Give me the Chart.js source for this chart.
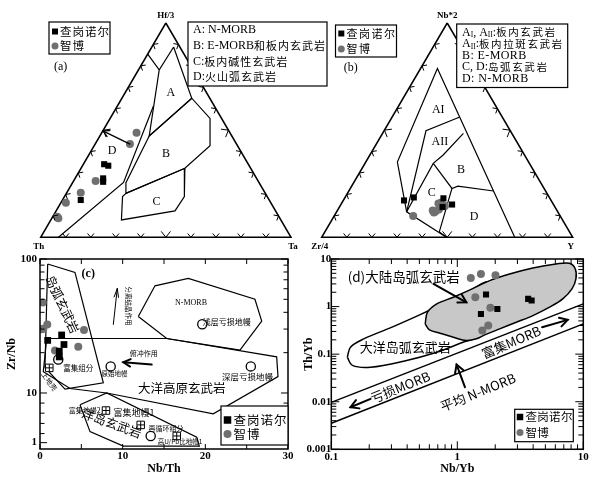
<!DOCTYPE html>
<html><head><meta charset="utf-8">
<script src="https://cdn.jsdelivr.net/npm/chart.js@4.4.1/dist/chart.umd.min.js"></script>
<style>
html,body{margin:0;padding:0;background:#fff;}
#wrap{position:relative;width:608px;height:487px;background:#fff;overflow:hidden;}
#wrap canvas{position:absolute;left:0;top:0;}
</style></head><body><div id="wrap">
<canvas id="cA" width="608" height="487"></canvas>
<canvas id="cB" width="608" height="487"></canvas>
<canvas id="cC" width="608" height="487"></canvas>
<canvas id="cD" width="608" height="487"></canvas>
</div>
<script>
// ================= DATA =================
// Panel (a): Hf/3 – Th – Ta ternary; compositions [Hf/3, Th, Ta] in %
const aZhaGangNuoEr = [[34.1,57.7,8.3],[33.4,56.3,10.3],[27.5,61.2,11.2],[25.9,62.1,12.0],[17.4,75.3,7.3]];
const aZhiBo = [[48.8,37.3,13.9],[43.5,42.6,13.9],[26.3,64.9,8.8],[20.8,73.6,5.6],[16.1,81.9,2.0],[8.9,88.5,2.6],[9.6,88.6,1.8]];
const aFieldA = [[88.8,2.5,8.7],[64.9,7.2,27.9],[47.3,33.0,19.7],[78.1,13.6,8.3],[88.8,2.5,8.7]];
const aFieldB = [[47.3,33.0,19.7],[64.9,7.2,27.9],[55.5,4.6,39.9],[42.7,11.0,46.3],[32.2,26.3,41.5],[20.5,55.7,23.8],[25.5,53.2,21.3],[47.3,33.0,19.7]];
const aFieldC = [[20.5,55.7,23.8],[32.2,26.3,41.5],[19.0,33.0,47.9],[12.3,40.2,47.5],[8.1,63.7,28.2],[19.0,57.8,23.2],[20.5,55.7,23.8]];
const aLineTop = [[85.5,14.5,0],[78.1,13.6,8.3]];
const aLineD = [[61.3,24.3,14.4],[25.6,54.1,20.3],[0,92.9,7.1]];
const aArrow = [[43.5,42.6,13.9],[49.7,50.3,0]];
const aFieldLabels = ['A','B','C','D'];
const aFieldLabelPos = [[67.5,14.3,18.2],[38.9,30.5,30.6],[16.6,45.3,38.0],[40.4,51.3,8.3]];

// Panel (b): Nb*2 – Zr/4 – Y ternary; compositions [Nb*2, Zr/4, Y] in %
const bZhaGangNuoEr = [[17.2,58.6,24.2],[18.6,54.1,27.4],[18.2,42.5,39.4],[15.3,40.4,44.3],[14.1,44.7,41.1]];
const bZhiBo = [[9.9,58.5,31.5],[12.5,49.5,38.0],[12.0,48.7,39.3],[15.8,45.7,38.6],[16.2,44.2,39.6],[14.6,43.6,41.8],[13.0,46.8,40.2],[11.6,49.5,38.9]];
const bOuter = [[0,23.1,76.9],[78.8,14.5,6.7],[35.1,52.3,12.6],[11.9,60.2,27.9],[0,50.3,49.7]];
const bLineA = [[56.0,17.2,26.8],[49.7,33.6,16.7],[11.9,60.2,27.9]];
const bLineB = [[48.5,19.3,32.2],[38.4,32.4,29.2],[34.5,38.3,27.2],[11.9,60.2,27.9]];
const bLineC = [[34.5,38.3,27.2],[22.8,36.7,40.5],[23.9,33.7,42.3],[21.6,20.7,57.7]];
const bLineD = [[22.8,36.7,40.5],[2.5,51.9,45.6],[0,50.3,49.7]];
const bFieldLabels = ['AI','AII','B','C','D'];
const bFieldLabelPos = [[59.7,24.1,16.6],[44.6,30.6,24.8],[31.7,28.6,39.6],[20.8,45.8,33.4],[9.6,34.5,55.9]];

// Panel (c): Nb/Th vs Zr/Nb
const cZhaNbTh = [0.93, 2.62, 2.90, 2.33, 2.33];
const cZhaZrNb = [24.7, 27.1, 23.0, 20.5, 18.6];
const cZhiNbTh = [0.33, 0.20, 0.40, 0.88, 5.32, 4.63, 1.81];
const cZhiZrNb = [47.3, 29.9, 30.2, 32.5, 29.5, 22.1, 20.8];
const cResCircNbTh = [19.63, 8.55, 25.5, 2.21, 13.39];
const cResCircZrNb = [32.6, 15.8, 15.8, 17.8, 4.78];
const cResSqNbTh = [1.125, 7.98, 12.18, 16.54];
const cResSqZrNb = [15.4, 7.4, 5.78, 4.78];
const cArcX = [0.93, 4.23, 7.66, 3.02, 0.6, 0.93];
const cArcY = [91.7, 79.4, 11.9, 10.7, 15.5, 91.7];
const cPlateauX = [0.81, 15.33, 28.63, 28.79, 20.96, 8.07, 3.63, 0.4, 0.81];
const cPlateauY = [25.5, 25.5, 18.6, 13.25, 7.0, 10.0, 10.8, 14.4, 25.5];
const cNmorbX = [11.89, 13.91, 17.94, 26.0, 26.82, 24.19, 15.33, 11.89];
const cNmorbY = [37.2, 63.1, 71.6, 50.1, 34.4, 20.9, 25.5, 37.2];
const cOibX = [4.84, 8.07, 18.96, 19.27, 10.08, 6.05, 4.84];
const cOibY = [8.17, 10.0, 4.68, 4.02, 4.02, 5.15, 8.17];
const cXTickValues = [0,5,10,15,20,25,30];
const cXTickLabels = ['0','','10','','20','','30'];
const cYTickValues = [4.26,4.98,5.93,7.07,8.41,10,20,30,40,50,60,70,80,90,100];
const cYTickLabels = ['1','','','','','10','','','','','','','','','100'];

// Panel (d): Nb/Yb vs Th/Yb
const dZhaNbYb = [1.69, 1.54, 2.08, 3.65, 3.89];
const dZhaThYb = [1.79, 0.70, 0.89, 1.45, 1.34];
const dZhiNbYb = [1.28, 1.54, 2.01, 1.39, 1.83, 1.76, 1.58];
const dZhiThYb = [4.01, 4.86, 4.55, 1.57, 0.94, 0.40, 0.313];
const dMorbUpperX = [0.1, 10]; const dMorbUpperY = [0.0097, 1.14];
const dMorbLowerX = [0.1, 10]; const dMorbLowerY = [0.00352, 0.433];
const dContArcX = [0.556,0.58,0.687,0.93,1.26,1.81,2.6,3.98,6.08,7.75,8.64,8.74,8.13,6.87,5.4,3.98,2.94,2.17,1.65,1.42,1.18,0.93,0.73,0.601,0.556];
const dContArcY = [0.433,0.76,1.14,1.57,2.24,3.52,4.85,6.49,7.87,8.13,6.18,3.82,2.35,1.45,0.97,0.647,0.469,0.34,0.254,0.21,0.193,0.227,0.275,0.324,0.433];
const dOcArcX = [0.134,0.142,0.181,0.294,0.508,0.824,1.26,1.81,2.31,1.42,1.11,0.687,0.375,0.205,0.147,0.134];
const dOcArcY = [0.086,0.14,0.209,0.357,0.679,1.23,2.17,3.24,0.97,0.226,0.178,0.11,0.071,0.053,0.058,0.086];
const dXDecadeLabels = {'0.1':'0.1','1':'1','10':'10'};
const dYDecadeLabels = {'0.001':'0.001','0.01':'0.01','0.1':'0.1','1':'1','10':'10'};

// ================= HELPERS =================
const SER = (s,w)=>`${w||''} ${s}px "Liberation Serif","Noto Sans CJK SC",serif`;
const CJK = (s)=>`${s}px "Noto Sans CJK SC","Liberation Serif",sans-serif`;
const GREY = '#707070';
const tern = c => ({x:(c[2] + c[0]/2)/100, y:c[0]/100});
const xy = (xs,ys) => xs.map((x,i)=>({x, y:ys[i]}));
function lineDs(data, o){ return Object.assign({type:'line', data, showLine:true, borderColor:'#000', borderWidth:1.2, pointRadius:0, fill:false, tension:0, backgroundColor:'rgba(0,0,0,0)'}, o||{}); }
function ptDs(data, kind, o){
  const sq = kind==='sq';
  return Object.assign({type:'line', data, showLine:false, pointStyle: sq?'rect':'circle', pointRadius: sq?4.3:4,
    backgroundColor: sq?'#000':GREY, borderColor: sq?'#000':GREY, borderWidth:0}, o||{});
}
function txt(ctx, t, x, y, font, rot, align, ls){
  ctx.save(); ctx.translate(x,y); if(rot) ctx.rotate(rot*Math.PI/180);
  ctx.font=font; ctx.fillStyle='#000'; ctx.textAlign=align||'center'; ctx.textBaseline='middle';
  ctx.letterSpacing = ls || '0px';
  ctx.fillText(t,0,0); ctx.restore();
}
function segs(ctx, x, y, list){
  ctx.save(); ctx.fillStyle='#000'; ctx.textBaseline='middle'; ctx.textAlign='left';
  let cx=x;
  for(const s of list){ ctx.font=s[1]; ctx.letterSpacing=s[3]||'0px'; ctx.fillText(s[0], cx, y+(s[2]||0)); cx+=ctx.measureText(s[0]).width; }
  ctx.restore();
}
function arrow(ctx, x1,y1,x2,y2, lw, hl, angDeg){
  const ang=angDeg*Math.PI/180;
  ctx.save(); ctx.strokeStyle='#000'; ctx.lineWidth=lw; ctx.lineCap='round'; ctx.lineJoin='miter';
  ctx.beginPath(); ctx.moveTo(x1,y1); ctx.lineTo(x2,y2); ctx.stroke();
  const a=Math.atan2(y2-y1,x2-x1);
  ctx.beginPath();
  ctx.moveTo(x2-hl*Math.cos(a-ang), y2-hl*Math.sin(a-ang));
  ctx.lineTo(x2,y2);
  ctx.lineTo(x2-hl*Math.cos(a+ang), y2-hl*Math.sin(a+ang));
  ctx.stroke(); ctx.restore();
}
function legend(ctx, L){
  ctx.save();
  ctx.fillStyle='#fff'; ctx.fillRect(L.x,L.y,L.w,L.h);
  ctx.strokeStyle='#000'; ctx.lineWidth=1.2; ctx.strokeRect(L.x,L.y,L.w,L.h);
  for(const it of L.items){
    if(it.m==='sq'){ ctx.fillStyle='#000'; ctx.fillRect(it.mx-it.s/2, it.y-it.s/2, it.s, it.s); }
    else if(it.m==='ci'){ ctx.fillStyle=GREY; ctx.beginPath(); ctx.arc(it.mx,it.y,it.s/2,0,Math.PI*2); ctx.fill(); }
    if(it.segs) segs(ctx, it.tx, it.y, it.segs);
    else txt(ctx, it.t, it.tx, it.y, L.font, 0, 'left', L.ls);
  }
  ctx.restore();
}
function ternTicks(ctx, P){
  const V=[P([100,0,0]),P([0,100,0]),P([0,0,100])];
  const cx=(V[0][0]+V[1][0]+V[2][0])/3, cy=(V[0][1]+V[1][1]+V[2][1])/3;
  const edges=[[V[1],V[2]],[V[2],V[0]],[V[0],V[1]]];
  ctx.save(); ctx.strokeStyle='#000'; ctx.lineWidth=1;
  for(const [A,B] of edges){
    for(let i=1;i<10;i++){
      const px=A[0]+(B[0]-A[0])*i/10, py=A[1]+(B[1]-A[1])*i/10;
      let nx=-(B[1]-A[1]), ny=(B[0]-A[0]); const nl=Math.hypot(nx,ny); nx/=nl; ny/=nl;
      if((cx-px)*nx+(cy-py)*ny<0){nx=-nx;ny=-ny;}
      const L=i===5?7.5:5, ang=(i===5?38:40)*Math.PI/180;
      ctx.beginPath();
      for(const s of [-1,1]){ const ca=Math.cos(s*ang), sa=Math.sin(s*ang);
        const dx=nx*ca-ny*sa, dy=nx*sa+ny*ca; ctx.moveTo(px,py); ctx.lineTo(px+dx*L,py+dy*L); }
      ctx.stroke();
    }
  }
  ctx.restore();
}
function axisTicks(chart, isMajorX, isMajorY, LX, lX, LY, lY){
  const {ctx, chartArea:a} = chart; const xs=chart.scales.x, ys=chart.scales.y;
  ctx.save(); ctx.strokeStyle='#000'; ctx.lineWidth=1; ctx.beginPath();
  xs.ticks.forEach((t,i)=>{ const p=xs.getPixelForValue(t.value); const L=isMajorX(t.value,i)?LX:lX;
    ctx.moveTo(p,a.bottom); ctx.lineTo(p,a.bottom-L); ctx.moveTo(p,a.top); ctx.lineTo(p,a.top+L); });
  ys.ticks.forEach((t,i)=>{ const p=ys.getPixelForValue(t.value); const L=isMajorY(t.value,i)?LY:lY;
    ctx.moveTo(a.left,p); ctx.lineTo(a.left+L,p); ctx.moveTo(a.right,p); ctx.lineTo(a.right-L,p); });
  ctx.stroke();
  ctx.lineWidth=1.5; ctx.strokeRect(a.left,a.top,a.right-a.left,a.bottom-a.top);
  ctx.restore();
}
const baseOpts = {responsive:false, animation:false, events:[], devicePixelRatio:1,
  plugins:{legend:{display:false}, tooltip:{enabled:false}}};
function ternScales(x0,y0,w,h){
  return { x:{type:'linear', display:false, min:-x0/w, max:(608-x0)/w},
           y:{type:'linear', display:false, min:(y0-487)/h, max:y0/h} };
}
const TRI = [[100,0,0],[0,100,0],[0,0,100],[100,0,0]];

// ================= PANEL (a) =================
new Chart(document.getElementById('cA'), {
  type:'line',
  data:{datasets:[
    ptDs(aZhaGangNuoEr.map(tern),'sq'),
    ptDs(aZhiBo.map(tern),'ci'),
    lineDs(TRI.map(tern),{borderWidth:1.5}),
    lineDs(aFieldA.map(tern)), lineDs(aFieldB.map(tern)), lineDs(aFieldC.map(tern)),
    lineDs(aLineTop.map(tern)), lineDs(aLineD.map(tern))
  ]},
  options:Object.assign({}, baseOpts, {layout:{padding:0, autoPadding:false}, scales:ternScales(40.7,237.3,250.3,214.3)}),
  plugins:[{id:'decoA', afterDatasetsDraw(chart){
    const ctx=chart.ctx, xs=chart.scales.x, ys=chart.scales.y;
    const P=c=>{const q=tern(c); return [xs.getPixelForValue(q.x), ys.getPixelForValue(q.y)];};
    ternTicks(ctx,P);
    const s=P(aArrow[0]), e=P(aArrow[1]); arrow(ctx,s[0],s[1],e[0],e[1],1.3,7,28);
    aFieldLabels.forEach((t,i)=>{const p=P(aFieldLabelPos[i]); txt(ctx,t,p[0],p[1],SER(12));});
    const T=P([100,0,0]), L=P([0,100,0]), R=P([0,0,100]);
    txt(ctx,'Hf/3',T[0],T[1]-7.5,SER(9,'bold'));
    txt(ctx,'Th',L[0]-2,L[1]+9.5,SER(9,'bold'));
    txt(ctx,'Ta',R[0]+2,R[1]+9.5,SER(9,'bold'));
    txt(ctx,'(a)',60.7,66.7,SER(12));
    legend(ctx,{x:49,y:22,w:61,h:32,font:CJK(11.5),ls:'1px',items:[
      {m:'sq',mx:55,s:6,y:31.5,tx:60,t:'查岗诺尔'},{m:'ci',mx:55,s:7,y:46,tx:60,t:'智博'}]});
    const F=SER(12), C=CJK(11);
    legend(ctx,{x:188,y:22,w:139,h:64,font:F,items:[
      {tx:193,y:30,segs:[['A: N-MORB',F]]},
      {tx:193,y:45.5,segs:[['B: E-MORB',F],['和板内玄武岩',C,0,'1px']]},
      {tx:193,y:61.5,segs:[['C:',F],['板内碱性玄武岩',C,0,'1px']]},
      {tx:193,y:77,segs:[['D:',F],['火山弧玄武岩',C,0,'1px']]}]});
  }}]
});

// ================= PANEL (b) =================
new Chart(document.getElementById('cB'), {
  type:'line',
  data:{datasets:[
    ptDs(bZhaGangNuoEr.map(tern),'sq'),
    ptDs(bZhiBo.map(tern),'ci'),
    lineDs(TRI.map(tern),{borderWidth:1.5}),
    lineDs(bOuter.map(tern)), lineDs(bLineA.map(tern)), lineDs(bLineB.map(tern)),
    lineDs(bLineC.map(tern)), lineDs(bLineD.map(tern))
  ]},
  options:Object.assign({}, baseOpts, {layout:{padding:0, autoPadding:false}, scales:ternScales(321.7,237.3,251,214.3)}),
  plugins:[{id:'decoB', afterDatasetsDraw(chart){
    const ctx=chart.ctx, xs=chart.scales.x, ys=chart.scales.y;
    const P=c=>{const q=tern(c); return [xs.getPixelForValue(q.x), ys.getPixelForValue(q.y)];};
    ternTicks(ctx,P);
    bFieldLabels.forEach((t,i)=>{const p=P(bFieldLabelPos[i]); txt(ctx,t,p[0],p[1],SER(12));});
    const T=P([100,0,0]), L=P([0,100,0]), R=P([0,0,100]);
    txt(ctx,'Nb*2',T[0],T[1]-7.5,SER(9,'bold'));
    txt(ctx,'Zr/4',L[0]-2,L[1]+9.5,SER(9,'bold'));
    txt(ctx,'Y',R[0]-2,R[1]+9.5,SER(9,'bold'));
    txt(ctx,'(b)',350.7,67.7,SER(12));
    legend(ctx,{x:335.5,y:25,w:61,h:32,font:CJK(11),ls:'1.5px',items:[
      {m:'sq',mx:341.3,s:6,y:33.5,tx:346.5,t:'查岗诺尔'},{m:'ci',mx:341.3,s:7,y:49,tx:346.5,t:'智博'}]});
    const F=SER(12), f=SER(7.5), C=CJK(10.5);
    legend(ctx,{x:456.7,y:24,w:111,h:63.5,font:F,items:[
      {tx:462,y:32.5,segs:[['A',F],['I',f,2.5],[', A',F],['II',f,2.5],[':',F],['板内玄武岩',C,0,'1.6px']]},
      {tx:462,y:44.3,segs:[['A',F],['II',f,2.5],[':',F],['板内拉斑玄武岩',C,0,'1.6px']]},
      {tx:462,y:55.8,segs:[['B: E-MORB',F,0,'0.4px']]},
      {tx:462,y:67.3,segs:[['C, D:',F],['岛弧玄武岩',C,0,'1.6px']]},
      {tx:462,y:79,segs:[['D: N-MORB',F,0,'0.4px']]}]});
  }}]
});

// ================= PANEL (c) =================
const tickFont = {family:'"Liberation Serif", serif', size:11, weight:'bold'};
const titleFont = {family:'"Liberation Serif", serif', size:12, weight:'bold'};
const cTexts = [
  {t:'(c)', x:5.84, y:77.1, f:SER(12,'bold')},
  {t:'N-MORB', x:18.27, y:47.3, f:SER(8)},
  {t:'浅层亏损地幔', x:22.6, y:33.9, f:CJK(8)},
  {t:'原始地幔', x:9.01, y:13.9, f:CJK(6.5)},
  {t:'深层亏损地幔', x:25.1, y:13.3, f:CJK(8.5)},
  {t:'富集组分', x:4.63, y:15.4, f:CJK(7.5)},
  {t:'大洋高原玄武岩', x:17.14, y:10.9, f:CJK(12.5)},
  {t:'岛弧玄武岩', x:2.7, y:45.9, f:CJK(12.5), r:65},
  {t:'分离结晶作用', x:10.68, y:44.6, f:CJK(6.5), r:90},
  {t:'俯冲作用', x:12.56, y:19.7, f:CJK(7)},
  {t:'富集地幔2', x:5.41, y:7.4, f:CJK(7)},
  {t:'富集地幔1', x:11.37, y:7.15, f:CJK(9)},
  {t:'洋岛玄武岩', x:8.67, y:5.96, f:CJK(12.5), r:20},
  {t:'再循环组分', x:15.24, y:5.46, f:CJK(7)},
  {t:'高U/Pb比地幔1', x:16.94, y:4.33, f:CJK(6.5)},
  {t:'上地壳', x:1.125, y:12.2, f:CJK(7), r:55}
];
const cArrows = [
  {from:{x:8.87,y:32.5}, to:{x:9.35,y:60.3}, lw:1, hl:9, a:14},
  {from:{x:13.51,y:16.3}, to:{x:10.08,y:16.97}, lw:2, hl:8, a:28}
];
new Chart(document.getElementById('cC'), {
  type:'line',
  data:{datasets:[
    ptDs(xy(cZhaNbTh,cZhaZrNb),'sq',{pointRadius:4.8}),
    ptDs(xy(cZhiNbTh,cZhiZrNb),'ci'),
    ptDs(xy(cResSqNbTh,cResSqZrNb),'x',{pointStyle:'cross',pointRadius:3.6,borderColor:'#000',borderWidth:1,backgroundColor:'#000'}),
    ptDs(xy(cResSqNbTh,cResSqZrNb),'sq',{pointRadius:5.3,backgroundColor:'#fff',borderColor:'#000',borderWidth:1}),
    ptDs(xy(cResCircNbTh,cResCircZrNb),'ci',{pointRadius:4.6,backgroundColor:'#fff',borderColor:'#000',borderWidth:1.3}),
    lineDs(xy(cArcX,cArcY)), lineDs(xy(cPlateauX,cPlateauY)),
    lineDs(xy(cNmorbX,cNmorbY)), lineDs(xy(cOibX,cOibY))
  ]},
  options:Object.assign({}, baseOpts, {
    layout:{padding:{left:0,right:320,top:259,bottom:0}, autoPadding:false},
    scales:{
      x:{type:'linear', min:0, max:30, grid:{display:false, drawTicks:false}, border:{display:false},
         afterBuildTicks(s){ s.ticks = cXTickValues.map(v=>({value:v})); },
         afterFit(s){ s.height=38; },
         ticks:{autoSkip:false, maxRotation:0, padding:1, color:'#000', font:tickFont, callback:(v,i)=>cXTickLabels[i]},
         title:{display:true, text:'Nb/Th', color:'#000', font:titleFont, padding:{top:0,bottom:10.8}}},
      y:{type:'logarithmic', min:3.82, max:100, grid:{display:false, drawTicks:false}, border:{display:false},
         afterBuildTicks(s){ s.ticks = cYTickValues.map(v=>({value:v})); },
         afterFit(s){ s.width=40; },
         ticks:{autoSkip:false, padding:3, color:'#000', font:tickFont, callback:(v,i)=>cYTickLabels[i]},
         title:{display:true, text:'Zr/Nb', color:'#000', font:titleFont, padding:{top:4.5,bottom:0}}}
    }}),
  plugins:[{id:'decoC', afterDatasetsDraw(chart){
    const ctx=chart.ctx, xs=chart.scales.x, ys=chart.scales.y;
    const X=v=>xs.getPixelForValue(v), Y=v=>ys.getPixelForValue(v);
    axisTicks(chart, ()=>true, (v,i)=>cYTickLabels[i]!=='', 5, 5, 7, 4.5);
    cTexts.forEach(o=>txt(ctx,o.t,X(o.x),Y(o.y),o.f,o.r||0));
    cArrows.forEach(o=>arrow(ctx,X(o.from.x),Y(o.from.y),X(o.to.x),Y(o.to.y),o.lw,o.hl,o.a));
    legend(ctx,{x:221,y:406,w:67,h:39,font:CJK(12.5),ls:'1px',items:[
      {m:'sq',mx:227.5,s:7.5,y:420,tx:233.5,t:'查岗诺尔'},{m:'ci',mx:227.5,s:8,y:434,tx:233.5,t:'智博'}]});
  }}]
});

// ================= PANEL (d) =================
function logTicks(e0,e1){ const out=[]; for(let e=e0;e<e1;e++){ for(let m=1;m<10;m++) out.push(+(m*Math.pow(10,e)).toPrecision(3)); } out.push(Math.pow(10,e1)); return out; }
const isDecade = v => Math.abs(Math.log10(v)-Math.round(Math.log10(v)))<1e-6;
const decKey = v => String(+Math.pow(10,Math.round(Math.log10(v))).toPrecision(3));
const dTexts = [
  {t:'(d)大陆岛弧玄武岩', x:0.375, y:4.13, f:CJK(13.5)},
  {t:'大洋岛弧玄武岩', x:0.387, y:0.14, f:CJK(13)},
  {t:'富集MORB', x:2.68, y:0.178, f:CJK(13), r:-23},
  {t:'亏损MORB', x:0.353, y:0.0202, f:CJK(13), r:-22},
  {t:'平均 N-MORB', x:1.46, y:0.0158, f:CJK(13), r:-22}
];
const dArrows = [
  {from:{x:0.647,y:3.0}, to:{x:1.18,y:1.23}},
  {from:{x:4.71,y:0.367}, to:{x:7.52,y:0.526}},
  {from:{x:0.205,y:0.0115}, to:{x:0.142,y:0.00766}},
  {from:{x:1.15,y:0.0202}, to:{x:0.987,y:0.0605}}
];
new Chart(document.getElementById('cD'), {
  type:'line',
  data:{datasets:[
    ptDs(xy(dZhaNbYb,dZhaThYb),'sq'),
    ptDs(xy(dZhiNbYb,dZhiThYb),'ci'),
    lineDs(xy(dMorbUpperX,dMorbUpperY),{borderWidth:1.5}),
    lineDs(xy(dMorbLowerX,dMorbLowerY),{borderWidth:1.5}),
    lineDs(xy(dContArcX,dContArcY),{borderWidth:1.5, tension:0.35, fill:'shape', backgroundColor:'#c8c8c8'}),
    lineDs(xy(dOcArcX,dOcArcY),{borderWidth:1.5, tension:0.35, fill:'shape', backgroundColor:'#fff'})
  ]},
  options:Object.assign({}, baseOpts, {
    layout:{padding:{left:301.3,right:24.7,top:259,bottom:0}, autoPadding:false},
    scales:{
      x:{type:'logarithmic', min:0.1, max:10, grid:{display:false, drawTicks:false}, border:{display:false},
         afterBuildTicks(s){ s.ticks = logTicks(-1,1).map(v=>({value:v})); },
         afterFit(s){ s.height=37.7; },
         ticks:{autoSkip:false, maxRotation:0, padding:1, color:'#000', font:tickFont,
           callback:(v)=> isDecade(v) ? (dXDecadeLabels[decKey(v)]||'') : ''},
         title:{display:true, text:'Nb/Yb', color:'#000', font:titleFont, padding:{top:0,bottom:10.5}}},
      y:{type:'logarithmic', min:0.001, max:10, grid:{display:false, drawTicks:false}, border:{display:false},
         afterBuildTicks(s){ s.ticks = logTicks(-3,1).map(v=>({value:v})); },
         afterFit(s){ s.width=30; },
         ticks:{autoSkip:false, padding:0, color:'#000', font:tickFont,
           callback:(v)=> isDecade(v) ? (dYDecadeLabels[decKey(v)]||'') : ''},
         title:{display:true, text:'Th/Yb', color:'#000', font:titleFont, padding:{top:0.5,bottom:0}}}
    }}),
  plugins:[{id:'decoD', afterDatasetsDraw(chart){
    const ctx=chart.ctx, xs=chart.scales.x, ys=chart.scales.y;
    const X=v=>xs.getPixelForValue(v), Y=v=>ys.getPixelForValue(v);
    axisTicks(chart, v=>isDecade(v), v=>isDecade(v), 8, 5, 8, 5);
    dTexts.forEach(o=>txt(ctx,o.t,X(o.x),Y(o.y),o.f,o.r||0));
    dArrows.forEach(o=>arrow(ctx,X(o.from.x),Y(o.from.y),X(o.to.x),Y(o.to.y),2,9,30));
    legend(ctx,{x:514.7,y:409.3,w:58.6,h:32.4,font:CJK(11.5),ls:'0.3px',items:[
      {m:'sq',mx:520,s:6.5,y:417,tx:525.5,t:'查岗诺尔'},{m:'ci',mx:520,s:7,y:432.5,tx:525.5,t:'智博'}]});
  }}]
});
</script>
</body></html>
